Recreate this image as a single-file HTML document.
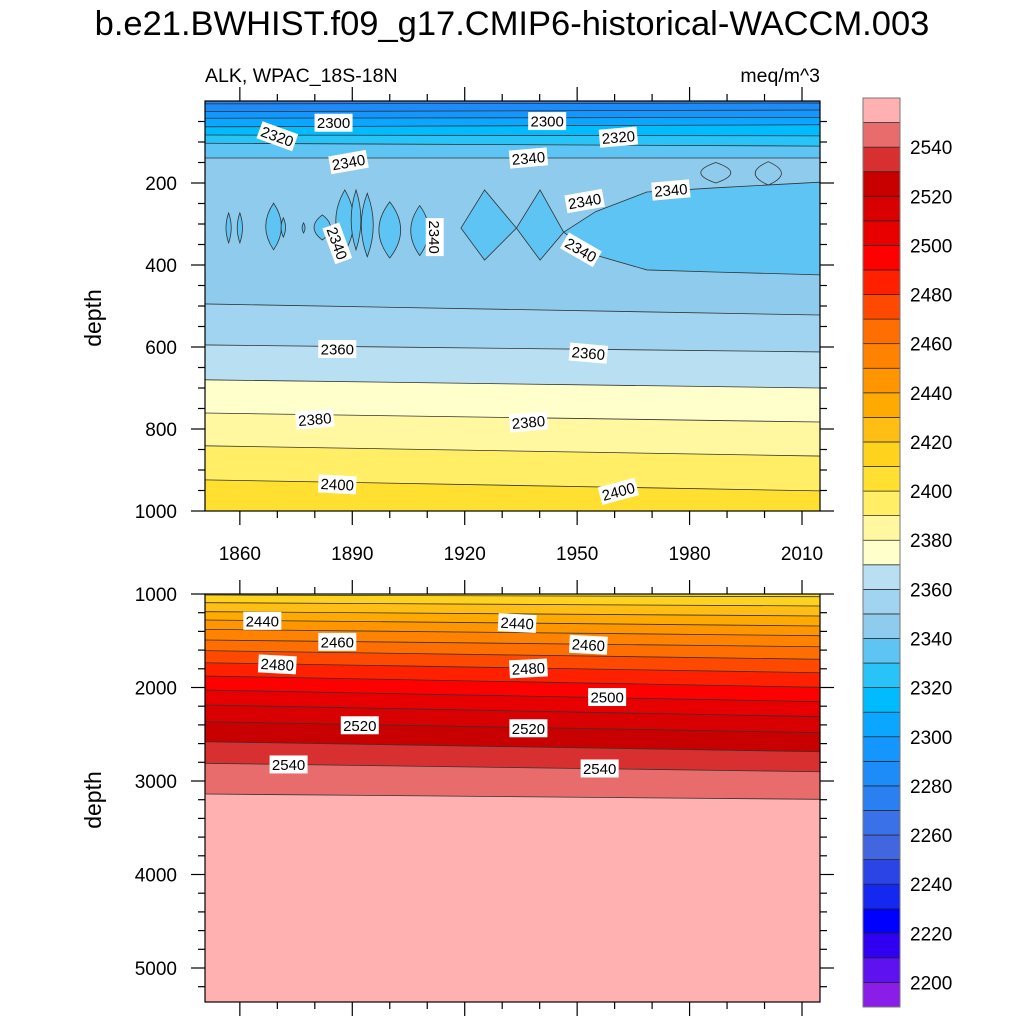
<!DOCTYPE html>
<html><head><meta charset="utf-8">
<style>
html,body{margin:0;padding:0;background:#fff;width:1024px;height:1024px;overflow:hidden;}
svg{display:block;font-family:"Liberation Sans",Arial,sans-serif;}
</style></head>
<body>
<svg id="chart" width="1024" height="1024" viewBox="0 0 1024 1024">
<text x="512" y="35" font-size="34.5" text-anchor="middle">b.e21.BWHIST.f09_g17.CMIP6-historical-WACCM.003</text>
<text x="205" y="82" font-size="19.5">ALK, WPAC_18S-18N</text>
<text x="820" y="82" font-size="19.5" text-anchor="end">meq/m^3</text>
<g id="top"></g>
<g id="bot"></g>
<g id="cbar"></g>
<text transform="translate(101,318) rotate(-90)" font-size="23" text-anchor="middle">depth</text>
<text transform="translate(101,800) rotate(-90)" font-size="23" text-anchor="middle">depth</text>
</svg>
<script>
// ---- data ----
const cbLevels = [2200,2210,2220,2230,2240,2250,2260,2270,2280,2290,2300,2310,2320,2330,2340,2350,2360,2370,2380,2390,2400,2410,2420,2430,2440,2450,2460,2470,2480,2490,2500,2510,2520,2530,2540,2550];
const cbColors = ["#8a1ee8","#5f12f0","#3000f0","#0000ff","#1428f0","#2a44e6","#4266e0","#3a70e8","#2a80f0","#1e8cf8","#1496ff","#0aa6ff","#00bcff","#28c4f8","#5ec4f4","#8ecbec","#a0d4f0","#b8e0f2","#ffffcc","#fff8a0","#ffee66","#ffe030","#ffd21e","#ffbe14","#ffaa00","#ff9600","#ff8200","#ff6e00","#ff4800","#ff2000","#ff0000","#e80000","#d80000","#c80000","#d83030","#e86c6c","#ffb0b0"];
const cbLabels = [2200,2220,2240,2260,2280,2300,2320,2340,2360,2380,2400,2420,2440,2460,2480,2500,2520,2540];
const contourLevels = [2280,2290,2300,2310,2320,2330,2340,2350,2360,2370,2380,2390,2400,2410,2420,2430,2440,2450,2460,2470,2480,2490,2500,2510,2520,2530,2540,2550];
const depthStart    = [7,26,42,63,83,103,139,495,595,680,761,841,924,1011,1093,1189,1278,1378,1492,1606,1735,1877,2027,2187,2366,2580,2811,3139];
const depthEnd      = [5,22,40,58,85,110,139,522,612,700,783,866,951,1029,1128,1235,1342,1446,1564,1698,1842,1998,2152,2312,2483,2687,2901,3196];
const yearStart = 1850.7, yearEnd = 2014.8;
const minYears = [1919,1925.3,1933.8,1940.1,1946.4,1954.9,1968.6,1986.5,2014.8];
const minTop   = [310,217,310,217,320,270,222,212,198];
const minBot   = [310,388,310,388,320,376,412,417,424];
const lensYear = [1857,1860,1869,1871.6,1877,1882,1888,1891,1894,1900,1908];
const lensHalf = [0.7,0.7,2.1,0.6,0.4,2.2,2.4,1.3,1.6,2.9,2.4];
const lensTop  = [273,273,249,285,297,278,217,217,225,246,255];
const lensBot  = [346,346,363,332,322,339,368,363,380,383,377];
const loopYear = [1987,2001];
const loopHalf = [4,3.5];
const loopTop  = [150,148];
const loopBot  = [200,205];
const labelText = ["2300","2300","2320","2320","2340","2340","2340","2340","2340","2340","2340","2360","2360","2380","2380","2400","2400","2440","2440","2460","2460","2480","2480","2500","2520","2520","2540","2540"];
const labelYear = [1885,1942,1870,1961,1889,1937,1952,1975,1886,1912,1951,1886,1953,1880,1937,1886,1961,1866,1934,1886,1953,1870,1937,1958,1892,1937,1873,1956];
const labelDepth= [53,49,86,88,149,139,244,217,347,332,363,605,615,776,783,935,952,1287,1311,1512,1543,1753,1796,2102,2404,2436,2823,2866];
const labelRot  = [0,0,20,-5,-10,-5,-10,-5,70,90,30,0,5,-5,-5,3,-15,0,3,0,3,3,-3,0,0,0,0,0];

const NS="http://www.w3.org/2000/svg";
const X0=205, X1=820;
const xS = yr => X0 + (yr-yearStart)*(X1-X0)/(yearEnd-yearStart);
const topP = {y0:101, y1:511, d0:0, d1:1000};
const botP = {y0:594, y1:1002, d0:1000, d1:1000+(1002-594)/0.0935};
const yS = (p,d) => p.y0 + (d-p.d0)*(p.y1-p.y0)/(p.d1-p.d0);
function mk(tag, attrs, parent){const e=document.createElementNS(NS,tag);for(const k in attrs)e.setAttribute(k,attrs[k]);parent.appendChild(e);return e;}
function colorFor(lo){const i=cbLevels.indexOf(lo);return cbColors[i+1];}

function drawPanel(g, p, clipId, showXLabels){
  const defs=mk('defs',{},g);
  const cp=mk('clipPath',{id:clipId},defs);
  mk('rect',{x:X0,y:p.y0,width:X1-X0,height:p.y1-p.y0},cp);
  const inner=mk('g',{'clip-path':'url(#'+clipId+')'},g);
  const bg=mk('rect',{x:X0,y:p.y0,width:X1-X0,height:p.y1-p.y0,fill:cbColors[8]},inner);
  
  
  for(let i=0;i<contourLevels.length;i++){
    const ya=Math.min(yS(p,depthStart[i]),p.y1), yb=Math.min(yS(p,depthEnd[i]),p.y1);
    if(ya>=p.y1 && yb>=p.y1) continue;
    const poly=mk('polygon',{points:`${X0},${ya} ${X1},${yb} ${X1},${p.y1} ${X0},${p.y1}`,fill:colorFor(contourLevels[i])},inner);
    
    
  }
  if(p===topP){
    let pts=[];
    for(let i=0;i<minYears.length;i++)pts.push(xS(minYears[i])+','+yS(p,minTop[i]));
    for(let i=minYears.length-1;i>=0;i--)pts.push(xS(minYears[i])+','+yS(p,minBot[i]));
    const mr=mk('polygon',{points:pts.join(' '),fill:colorFor(2330),stroke:'#333',"stroke-width":0.8},inner);
    
    
    for(let i=0;i<lensYear.length;i++){
      const cx=xS(lensYear[i]), hw=xS(lensYear[i]+lensHalf[i])-cx, yt=yS(p,lensTop[i]), yb=yS(p,lensBot[i]), ym=(yt+yb)/2;
      const l=mk('path',{d:`M${cx},${yt} Q${cx+2*hw},${ym} ${cx},${yb} Q${cx-2*hw},${ym} ${cx},${yt}Z`,fill:colorFor(2330),stroke:'#333','stroke-width':0.8},inner);
      
      
    }
    for(let i=0;i<loopYear.length;i++){
      const cx=xS(loopYear[i]), hw=xS(loopYear[i]+loopHalf[i])-cx, yt=yS(p,loopTop[i]), yb=yS(p,loopBot[i]), ym=(yt+yb)/2;
      const l=mk('path',{d:`M${cx},${yt} Q${cx+2*hw},${ym} ${cx},${yb} Q${cx-2*hw},${ym} ${cx},${yt}Z`,fill:colorFor(2340),stroke:'#333','stroke-width':0.8},inner);
      
      
    }
  }
  for(let i=0;i<contourLevels.length;i++){
    const ya=yS(p,depthStart[i]), yb=yS(p,depthEnd[i]);
    if(ya>p.y1 && yb>p.y1) continue;
    if(ya<p.y0 && yb<p.y0) continue;
    const ln=mk('line',{x1:X0,y1:ya,x2:X1,y2:yb,stroke:'#333','stroke-width':0.8},inner);
    
    
  }
  for(let i=0;i<labelText.length;i++){
    if(labelDepth[i]<p.d0||labelDepth[i]>p.d1)continue;
    const x=xS(labelYear[i]), y=yS(p,labelDepth[i]);
    const lg=mk('g',{transform:`translate(${x},${y}) rotate(${labelRot[i]})`},inner);
    
    
    mk('rect',{x:-19,y:-9,width:38,height:18,fill:'#fff'},lg);
    const t=mk('text',{x:0,y:5.5,'font-size':15,'text-anchor':'middle'},lg);
    t.textContent=labelText[i];
  }
  const fr=mk('rect',{x:X0,y:p.y0,width:X1-X0,height:p.y1-p.y0,fill:'none',stroke:'#000','stroke-width':1.2},g);
  
  
  for(let yr=1860;yr<=2010;yr+=10){
    const x=xS(yr), L=(yr-1860)%30===0?14:7;
    mk('line',{x1:x,y1:p.y1,x2:x,y2:p.y1+L,stroke:'#000','stroke-width':1.2},g);
    mk('line',{x1:x,y1:p.y0,x2:x,y2:p.y0-L,stroke:'#000','stroke-width':1.2},g);
    if(showXLabels && L===14){
      const t=mk('text',{x:x,y:p.y1+49,'font-size':19,'text-anchor':'middle'},g);
      
      
      t.textContent=yr;
    }
  }
  const minorStep = p===topP?50:200, majorStep = p===topP?200:1000;
  for(let d=Math.ceil(p.d0/minorStep)*minorStep; d<=p.d1; d+=minorStep){
    if(d===0)continue;
    const y=yS(p,d), maj=d%majorStep===0, L=maj?14:7;
    mk('line',{x1:X0,y1:y,x2:X0-L,y2:y,stroke:'#000','stroke-width':1.2},g);
    mk('line',{x1:X1,y1:y,x2:X1+L,y2:y,stroke:'#000','stroke-width':1.2},g);
    if(maj){
      const t=mk('text',{x:X0-28,y:y+7,'font-size':19,'text-anchor':'end'},g);
      
      
      t.textContent=d;
    }
  }
}
drawPanel(document.getElementById('top'), topP, 'clipTop', true);
drawPanel(document.getElementById('bot'), botP, 'clipBot', false);

const cb=document.getElementById('cbar');
const cbX=863, cbW=37, cbTop=98, cbBot=1007, nBox=cbColors.length, bh=(cbBot-cbTop)/nBox;
for(let i=0;i<nBox;i++){
  const y=cbBot-(i+1)*bh;
  const r=mk('rect',{x:cbX,y:y,width:cbW,height:bh,fill:cbColors[i],stroke:'#222','stroke-width':0.7},cb);
  
  
}
mk('rect',{x:cbX,y:cbTop,width:cbW,height:cbBot-cbTop,fill:'none',stroke:'#777','stroke-width':1},cb);
for(const v of cbLabels){
  const i=cbLevels.indexOf(v);
  const y=cbBot-(i+1)*bh;
  const t=mk('text',{x:910,y:y+7,'font-size':19},cb);
  
  
  t.textContent=v;
}
</script>
</body></html>
